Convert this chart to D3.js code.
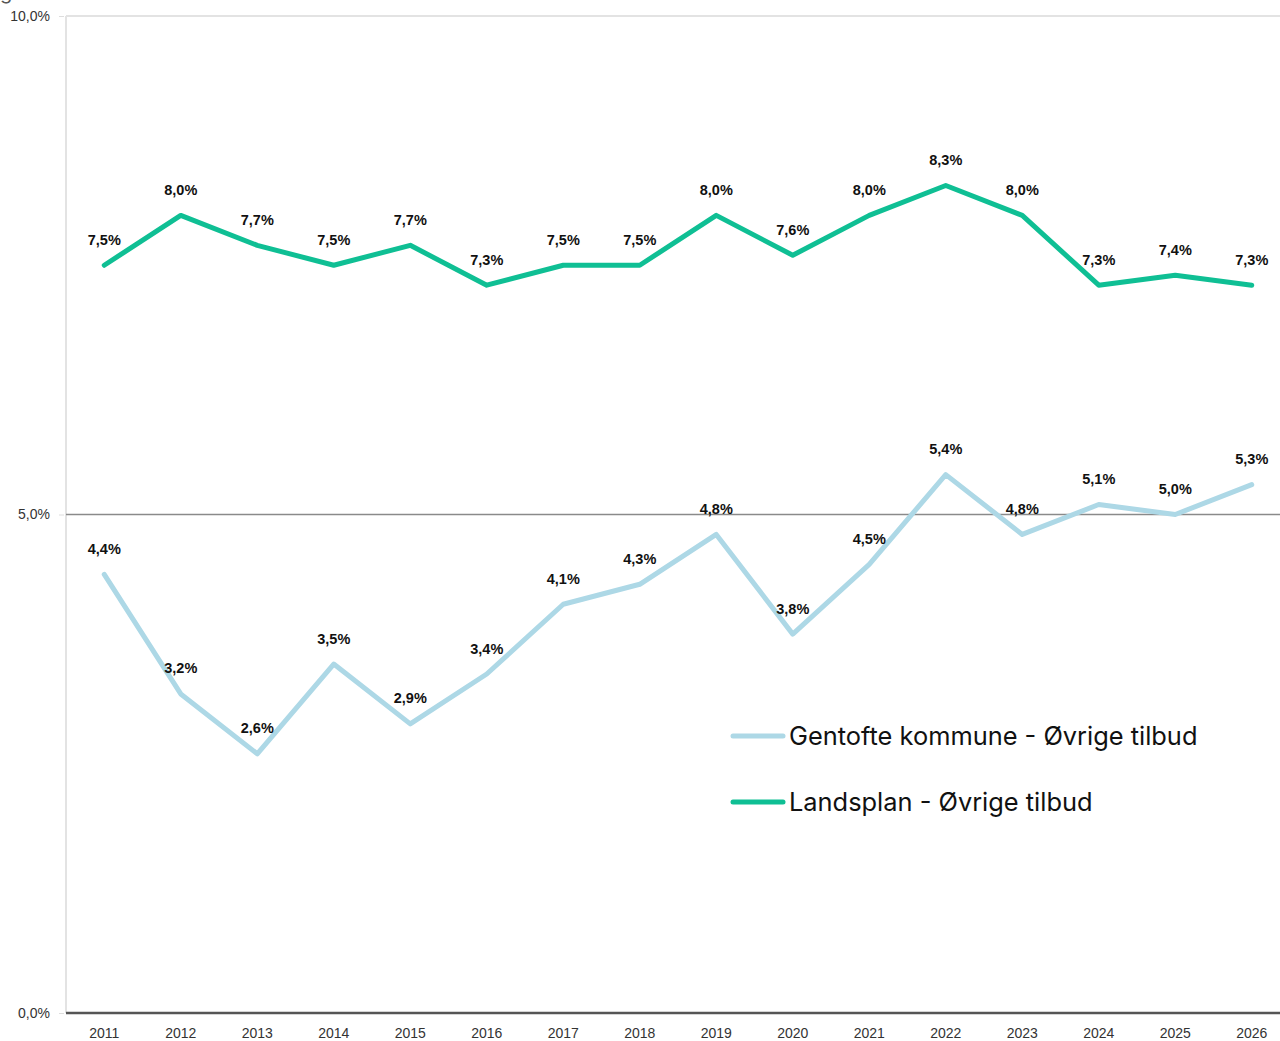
<!DOCTYPE html>
<html><head><meta charset="utf-8">
<script src="https://cdn.jsdelivr.net/npm/d3@7"></script>
<style>body{margin:0;background:#fff;overflow:hidden}svg{display:block}</style>
</head><body><svg id="c" width="1280" height="1041"></svg>
<script>
const years = ["2011","2012","2013","2014","2015","2016","2017","2018","2019","2020","2021","2022","2023","2024","2025","2026"];
const gentofte = [4.4,3.2,2.6,3.5,2.9,3.4,4.1,4.3,4.8,3.8,4.5,5.4,4.8,5.1,5.0,5.3];
const landsplan = [7.5,8.0,7.7,7.5,7.7,7.3,7.5,7.5,8.0,7.6,8.0,8.3,8.0,7.3,7.4,7.3];
const yTicks = [0,5,10];
const seriesNames = ["Gentofte kommune - Øvrige tilbud","Landsplan - Øvrige tilbud"];
const colors = ["#add8e6","#0fbf94"];

(function(){
const svg = d3.select("#c");
const mLeft = 66, mRight = 1290, mTop = 16, mBottom = 1013;
const x = d3.scaleBand().domain(years).range([mLeft, mRight]);
const y = d3.scaleLinear().domain([0,10]).range([mBottom, mTop]);
const fmt = v => d3.format(".1f")(v).replace(".", ",");

// partial clipped title glyph at top-left edge
svg.append("text").attr("x",0).attr("y",-1).attr("font-family","Inter, sans-serif").attr("font-size",20).attr("fill","#555").text("g");

svg.append("line").attr("x1",mLeft).attr("x2",mLeft).attr("y1",mTop).attr("y2",mBottom).attr("stroke","#e3e3e3").attr("stroke-width",2);
svg.append("line").attr("x1",mLeft).attr("x2",1280).attr("y1",y(10)).attr("y2",y(10)).attr("stroke","#e3e3e3").attr("stroke-width",2);
svg.append("line").attr("x1",mLeft).attr("x2",1280).attr("y1",y(5)).attr("y2",y(5)).attr("stroke","#8a8a8a").attr("stroke-width",1.5);
svg.append("line").attr("x1",mLeft).attr("x2",1280).attr("y1",y(0)).attr("y2",y(0)).attr("stroke","#555").attr("stroke-width",2.5);

const yAxis = d3.axisLeft(y).tickValues(yTicks).tickFormat(d => fmt(d) + "%").tickSize(5).tickPadding(9);
const yg = svg.append("g").attr("transform",`translate(${mLeft-2},0)`).call(yAxis);
yg.select(".domain").remove();
yg.selectAll(".tick line").attr("stroke","#ddd");
yg.selectAll(".tick text").attr("font-family","Liberation Sans, Arial, sans-serif").attr("font-size",14).attr("fill","#333");

const xAxis = d3.axisBottom(x).tickSize(0).tickPadding(15);
const xg = svg.append("g").attr("transform",`translate(0,${mBottom})`).call(xAxis);
xg.select(".domain").remove();
xg.selectAll(".tick text").attr("font-family","Liberation Sans, Arial, sans-serif").attr("font-size",14).attr("fill","#333");

const line = d3.line().x((d,i) => x(years[i]) + x.bandwidth()/2).y(d => y(d));
[gentofte, landsplan].forEach((s, k) => {
  svg.append("path").datum(s).attr("d", line).attr("fill","none").attr("stroke",colors[k]).attr("stroke-width",5).attr("stroke-linejoin","round").attr("stroke-linecap","round");
  svg.append("g").selectAll("text").data(s).join("text")
    .attr("x",(d,i) => x(years[i]) + x.bandwidth()/2)
    .attr("y", d => y(d) - 20.5)
    .attr("text-anchor","middle")
    .attr("font-family","Liberation Sans, Arial, sans-serif").attr("font-weight","bold").attr("font-size",14.5).attr("fill","#111")
    .text(d => fmt(d) + "%");
});

const lg = svg.append("g");
seriesNames.forEach((n, k) => {
  const ly = 736 + k*66;
  lg.append("line").attr("x1",733).attr("x2",783).attr("y1",ly).attr("y2",ly).attr("stroke",colors[k]).attr("stroke-width",5).attr("stroke-linecap","round");
  lg.append("text").attr("x",789).attr("y",ly+9).attr("font-family","Inter, 'Noto Sans', sans-serif").attr("font-size",25.4).attr("fill","#111").text(n);
});
})();
</script></body></html>
